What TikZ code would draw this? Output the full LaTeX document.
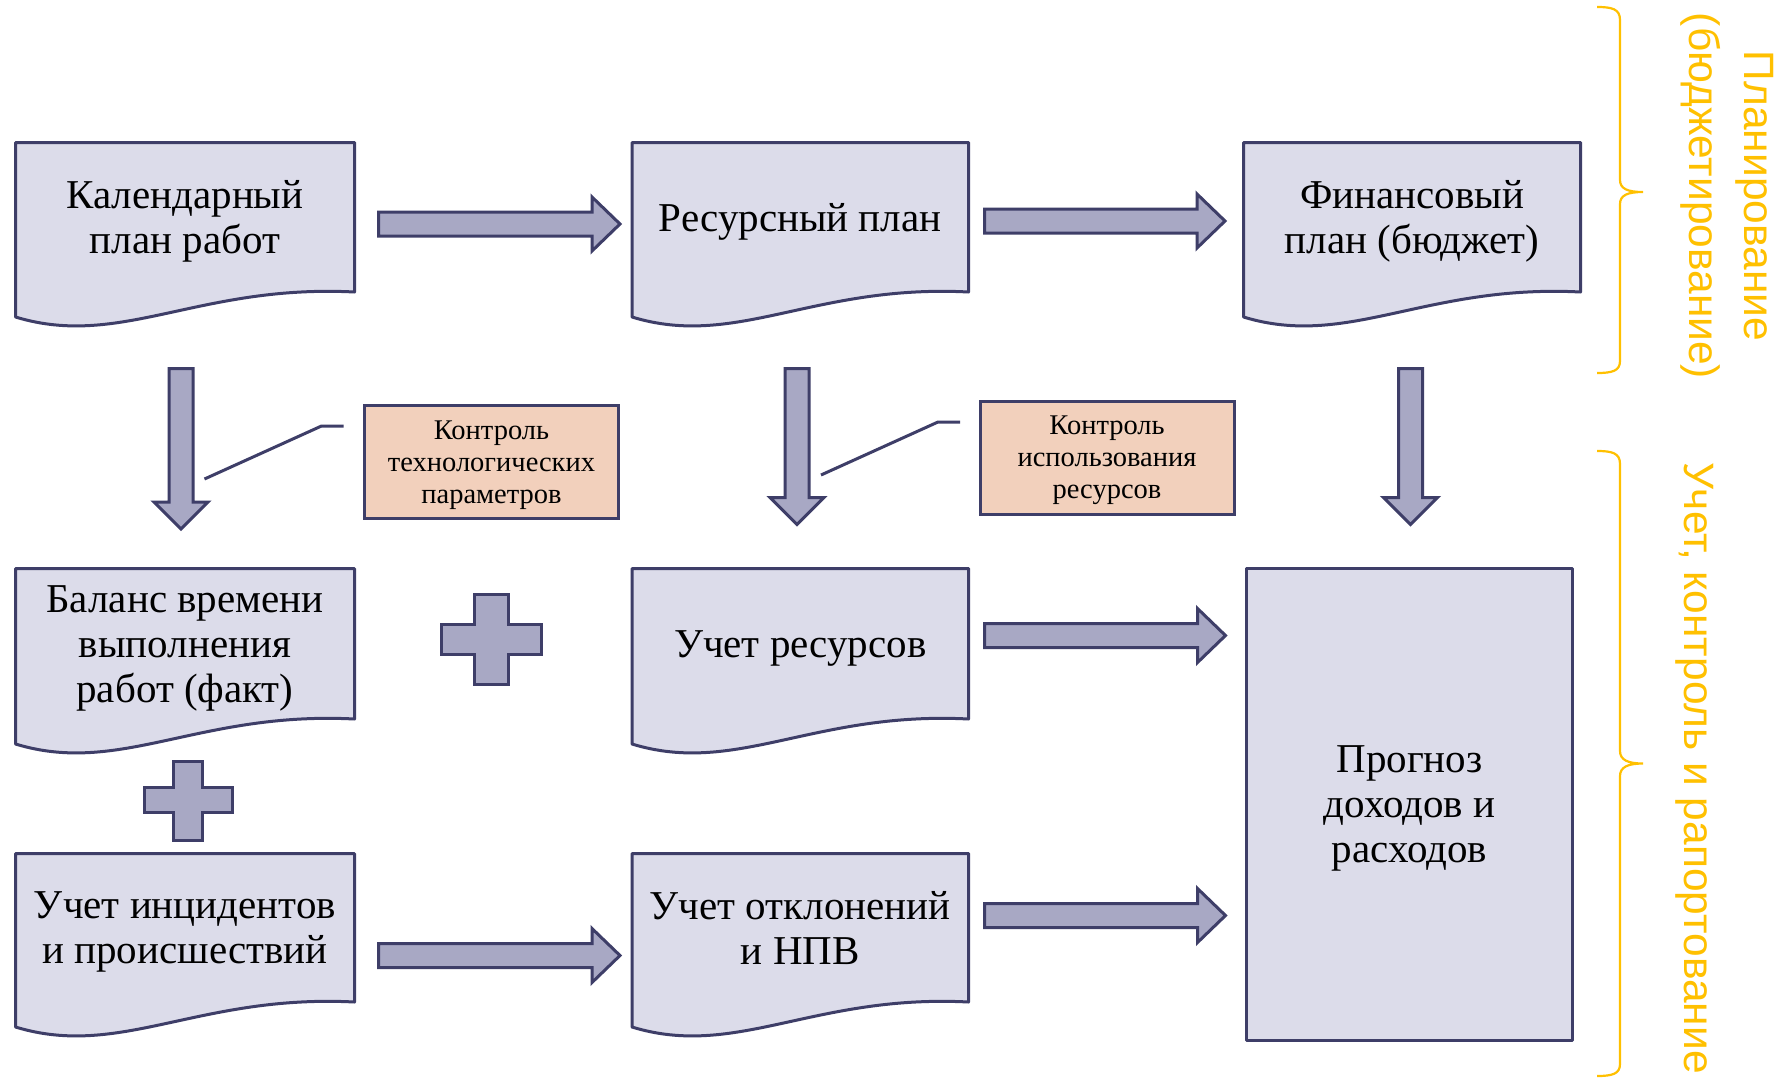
\documentclass[tikz,border=0pt]{standalone}
\usepackage{fontspec}
\setmainfont{Liberation Serif}
\newfontfamily\accentfont{Liberation Sans}
\usetikzlibrary{calc,backgrounds}
\definecolor{boxfill}{RGB}{220,220,234}
\definecolor{navy}{RGB}{62,62,104}
\definecolor{arrowfill}{RGB}{168,168,196}
\definecolor{peach}{RGB}{242,208,188}
\definecolor{accent}{RGB}{255,192,0}

\newcommand\docpath[1]{%
  \path[docbox] (#1.north west) -- (#1.north east) -- (#1.south east)
   .. controls ($(#1.south east)!0.46!(#1.south west)+(0,-8)$) and ($(#1.south east)!0.69!(#1.south west)+(0,57)$) .. ($(#1.south west)+(0,25)$) -- cycle;}
\newcommand\harrow[2]{%
  \path[blockarrow] let \p1=#1, \p2=#2 in
   (\x1,{\y1+12pt}) -- ({\x2-28pt},{\y1+12pt}) -- ({\x2-28pt},{\y1+27pt}) -- (\x2,\y1)
   -- ({\x2-28pt},{\y1-27pt}) -- ({\x2-28pt},{\y1-12pt}) -- (\x1,{\y1-12pt}) -- cycle;}
\newcommand\darrow[2]{%
  \path[blockarrow] let \p1=#1, \p2=#2 in
   ({\x1-12pt},\y1) -- ({\x1-12pt},{\y2+27pt}) -- ({\x1-27pt},{\y2+27pt}) -- (\x1,\y2)
   -- ({\x1+27pt},{\y2+27pt}) -- ({\x1+12pt},{\y2+27pt}) -- ({\x1+12pt},\y1) -- cycle;}

\begin{document}
\begin{tikzpicture}[x=1pt,y=-1pt,
  docnode/.style={rectangle,inner sep=0pt,outer sep=0pt,align=center,text depth=-9pt,
    font=\fontsize{41pt}{45pt}\selectfont,text=black},
  docbox/.style={draw=navy,fill=boxfill,line width=3pt,line join=round},
  ctlnode/.style={rectangle,draw=navy,fill=peach,line width=3pt,inner sep=0pt,outer sep=0pt,
    minimum width=254pt,minimum height=113pt,align=center,text depth=-3pt,
    font=\fontsize{28.5pt}{32pt}\selectfont},
  blockarrow/.style={draw=navy,fill=arrowfill,line width=3pt,line join=miter},
  ctlline/.style={draw=navy,line width=3pt},
  accenttext/.style={text=accent,font=\accentfont\fontsize{42.5pt}{55pt}\selectfont,
    inner sep=0pt,outer sep=0pt,rotate=-90,align=center},
  bracepath/.style={draw=accent,line width=2.2pt}]

\useasboundingbox (0,0) rectangle (1788,1079);

% document boxes (text nodes; shapes drawn behind)
\node[docnode,minimum width=339pt,minimum height=149.5pt] (cal) at (185,217.25) {Календарный\\план работ};
\node[docnode,minimum width=336.5pt,minimum height=149.5pt] (res) at (800.25,217.25) {Ресурсный план};
\node[docnode,minimum width=337pt,minimum height=149.5pt] (fin) at (1412,217.25) {Финансовый\\план (бюджет)};
\node[docnode,minimum width=339pt,minimum height=150.5pt] (bal) at (185,643.75) {Баланс времени\\выполнения\\работ (факт)};
\node[docnode,minimum width=336.5pt,minimum height=150.5pt] (ucr) at (800.25,643.75) {Учет ресурсов};
\node[docnode,minimum width=339pt,minimum height=148.5pt] (inc) at (185,927.75) {Учет инцидентов\\и происшествий};
\node[docnode,minimum width=336.5pt,minimum height=148.5pt] (otk) at (800.25,927.75) {Учет отклонений\\и НПВ};
\node[docnode,docbox,minimum width=326pt,minimum height=471.5pt] (prog) at (1409.5,804.25) {Прогноз\\доходов и\\расходов};

\begin{scope}[on background layer]
  \fill[white] (0,0) rectangle (1788,1079);
  \docpath{cal}
  \docpath{res}
  \docpath{fin}
  \docpath{bal}
  \docpath{ucr}
  \docpath{inc}
  \docpath{otk}
\end{scope}

% control callouts
\node[ctlnode] (ctl1) at (491.5,462) {Контроль\\технологических\\параметров};
\node[ctlnode] (ctl2) at (1107,457.5) {Контроль\\использования\\ресурсов};
\draw[ctlline] ($(ctl1.west)+(-21,-36)$) -- ++(-22,0) -- ++(-117,53);
\draw[ctlline] ($(ctl2.west)+(-20,-35.5)$) -- ++(-22,0) -- ++(-117,53);

% horizontal block arrows
\harrow{($(cal.east)+(24,6.75)$)}{($(res.west)+(-12,0)$)}
\harrow{($(res.east)+(16,3.75)$)}{($(fin.west)+(-18.5,0)$)}
\harrow{($(ucr.east)+(16,-8.25)$)}{($(prog.west)+(-21,0)$)}
\harrow{($(otk.east)+(16,-12.25)$)}{($(prog.west)+(-21,0)$)}
\harrow{($(inc.east)+(24,27.75)$)}{($(otk.west)+(-12,0)$)}

% vertical block arrows
\darrow{($(cal.south)+(-4,76.5)$)}{($(bal.north)+(0,-39.5)$)}
\darrow{($(res.south)+(-3.25,76.5)$)}{($(ucr.north)+(0,-44)$)}
\darrow{($(fin.south)+(-1.5,76.5)$)}{($(prog.north)+(0,-44)$)}

% plus signs
\path[blockarrow] (474.5,594.5) -- (508.5,594.5) -- (508.5,624.5) -- (541.5,624.5) -- (541.5,654.5)
  -- (508.5,654.5) -- (508.5,684.5) -- (474.5,684.5) -- (474.5,654.5) -- (441.5,654.5)
  -- (441.5,624.5) -- (474.5,624.5) -- cycle;
\path[blockarrow] (173.5,761.5) -- (202.5,761.5) -- (202.5,787.5) -- (232.5,787.5) -- (232.5,812.5)
  -- (202.5,812.5) -- (202.5,840) -- (173.5,840) -- (173.5,812.5) -- (144,812.5)
  -- (144,787.5) -- (173.5,787.5) -- cycle;

% braces
\draw[bracepath] (1597,7) .. controls (1612,7) and (1620,9) .. (1620,20) -- (1620,180)
  .. controls (1620,189) and (1628,192) .. (1643,192)
  .. controls (1628,192) and (1620,195) .. (1620,204) -- (1620,361)
  .. controls (1620,371) and (1612,373) .. (1597,373);
\draw[bracepath] (1597,451) .. controls (1612,451) and (1620,453) .. (1620,464) -- (1620,751)
  .. controls (1620,760) and (1628,763.5) .. (1643,763.5)
  .. controls (1628,763.5) and (1620,767) .. (1620,776) -- (1620,1064)
  .. controls (1620,1074) and (1612,1076) .. (1597,1076);

% side labels
\node[accenttext] (plan) at (1727.5,196) {Планирование\\(бюджетирование)};
\node[accenttext,anchor=west] (acct) at (1695,462) {Учет, контроль и рапортование};
\end{tikzpicture}
\end{document}
